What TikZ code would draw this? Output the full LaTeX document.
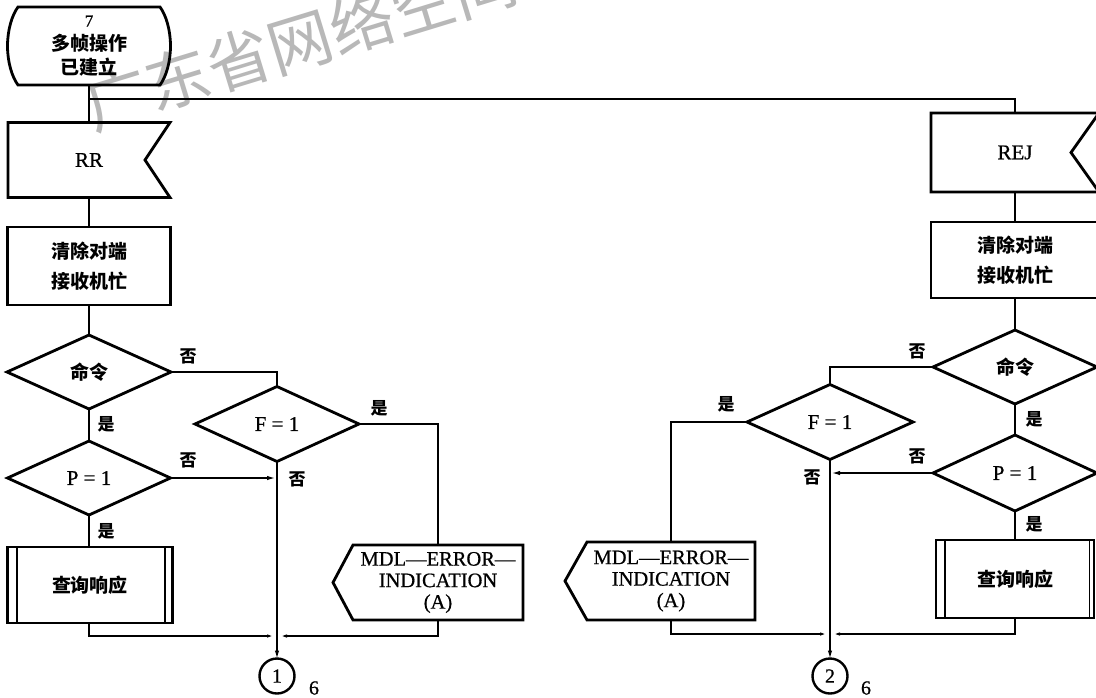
\documentclass[tikz,border=0pt]{standalone}
\usepackage{fontspec}
\setmainfont{Liberation Serif}[FakeBold=0.7]
\newfontfamily\cjk{Noto Sans CJK SC}
\usetikzlibrary{shapes.geometric,arrows.meta,calc}
\begin{document}
\begin{tikzpicture}[x=1pt,y=-1pt,
  outl/.style={line width=2.8pt,line join=miter},
  conn/.style={line width=1.2pt},
  ghost/.style={inner sep=0pt,outer sep=0pt},
  cjkt/.style={font=\cjk\bfseries\fontsize{19}{30}\selectfont},
  latt/.style={font=\fontsize{21}{23}\selectfont},
  dia/.style={diamond,draw,outl,inner sep=0pt,outer sep=0pt},
  rbox/.style={draw,outl,inner sep=0pt,outer sep=0pt},
  lbl/.style={font=\cjk\bfseries\fontsize{17}{17}\selectfont,inner sep=0pt},
  endc/.style={circle,draw,line width=2.4pt,minimum size=35pt,inner sep=0pt,outer sep=0pt,font=\fontsize{20}{20}\selectfont},
  arr/.style={conn,-{Latex[length=8pt,width=4.5pt]}},
  merge/.style={conn,-{Latex[length=6pt,width=3.5pt]},shorten >=4pt}
]
\useasboundingbox (0,0) rectangle (1096,697);
\fill[white] (0,0) rectangle (1096,697);
% watermark
\node[font=\cjk\fontsize{64}{64}\selectfont,text=black!28,rotate=17,anchor=west,inner sep=0pt] (wm) at (86,107) {广东省网络空间};

% ---------- left column ----------
\node[ghost,minimum width=163,minimum height=78,align=center,font=\cjk\bfseries\fontsize{19}{24}\selectfont] (start) at (89,46) {{\rmfamily\mdseries\fontsize{17}{17}\selectfont 7}\\多帧操作\\已建立};
\draw[outl] (18,7) -- (160,7) .. controls (166,15) and (170.5,30) .. (170.5,46) .. controls (170.5,62) and (166,77) .. (160,85) -- (18,85) .. controls (12,77) and (7.5,62) .. (7.5,46) .. controls (7.5,30) and (12,15) .. (18,7) -- cycle;

\node[ghost,minimum width=162,minimum height=75,latt] (rr) at (89,160) {RR};
\draw[outl] (rr.north west) -- (rr.north east) -- ++(-25,37.5) -- (rr.south east) -- (rr.south west) -- cycle;

\node[rbox,minimum width=163,minimum height=78,align=center,cjkt] (clr1) at (89,266) {清除对端\\接收机忙};

\node[dia,minimum width=164,minimum height=74,cjkt] (cmd1) at (89,372) {命令};
\node[dia,minimum width=163,minimum height=74,latt] (p1) at (89,478) {P = 1};

\node[rbox,minimum width=165,minimum height=76,cjkt] (q1) at (90,585) {查询响应};
\draw[line width=2pt] ([xshift=9pt]q1.north west) -- ([xshift=9pt]q1.south west);
\draw[line width=2pt] ([xshift=-8pt]q1.north east) -- ([xshift=-8pt]q1.south east);

\node[dia,minimum width=164,minimum height=75,latt] (f1) at (277,424) {F = 1};

\node[ghost,minimum width=170,minimum height=75,align=center,font=\fontsize{20.5}{21.5}\selectfont] (mdl1) at (438,582.5) {MDL—ERROR—\\INDICATION\\(A)};
\draw[outl] (mdl1.north west) -- (mdl1.north east) -- (mdl1.south east) -- (mdl1.south west) -- ++(-20,-37.5) -- cycle;

\node[endc] (c1) at (277,676) {1};
\node[font=\fontsize{20}{20}\selectfont,inner sep=0pt] (n6a) at (314,688) {6};

\coordinate (m1) at (277,636);

\draw[conn] (start.south) -- (rr.north);
\coordinate (top) at (89,99);
\draw[conn] (rr.south) -- (clr1.north);
\draw[conn] (clr1.south) -- (cmd1.north);
\draw[conn] (cmd1.south) -- (p1.north);
\draw[conn] (p1.south) -- (q1.north -| p1.south);
\draw[conn] (cmd1.east) -| (f1.north);
\draw[conn] (f1.east) -| (mdl1.north);
\draw[arr] (f1.south) -- (c1.north);
\draw[arr,shorten >=2pt] (p1.east) -- (p1.east -| f1.south);
\draw[merge] (q1.south -| p1.south) |- (m1);
\draw[merge] (mdl1.south) |- (m1);

\node[lbl] at (188,356) {否};
\node[lbl] at (106,424) {是};
\node[lbl] at (188,460) {否};
\node[lbl] at (106,531) {是};
\node[lbl] at (379,408) {是};
\node[lbl] at (297,479) {否};

% ---------- right column ----------
\node[ghost,minimum width=168,minimum height=79,latt] (rej) at (1015,152.5) {REJ};
\draw[outl] (rej.north west) -- (rej.north east) -- ++(-28,39.5) -- (rej.south east) -- (rej.south west) -- cycle;
\draw[conn] (top) -| (rej.north);
\draw[conn] (start.south) -- (top);

\node[rbox,minimum width=168,minimum height=76,align=center,cjkt] (clr2) at (1015,260) {清除对端\\接收机忙};

\node[dia,minimum width=164,minimum height=74,cjkt] (cmd2) at (1015,367) {命令};
\node[dia,minimum width=164,minimum height=76,latt] (p2) at (1015,473) {P = 1};

\node[rbox,minimum width=158,minimum height=78,cjkt] (q2) at (1015,579) {查询响应};
\draw[line width=2pt] ([xshift=9pt]q2.north west) -- ([xshift=9pt]q2.south west);
\draw[line width=1.5pt] ([xshift=-4.5pt]q2.north east) -- ([xshift=-4.5pt]q2.south east);

\node[dia,minimum width=166,minimum height=75,latt] (f2) at (830,422) {F = 1};

\node[ghost,minimum width=168,minimum height=78,align=center,font=\fontsize{20.5}{21.5}\selectfont] (mdl2) at (671,581) {MDL—ERROR—\\INDICATION\\(A)};
\draw[outl] (mdl2.north west) -- (mdl2.north east) -- (mdl2.south east) -- (mdl2.south west) -- ++(-22,-39) -- cycle;

\node[endc] (c2) at (830,676) {2};
\node[font=\fontsize{20}{20}\selectfont,inner sep=0pt] (n6b) at (866,688) {6};

\coordinate (m2) at (830,634);

\draw[conn] (rej.south) -- (clr2.north);
\draw[conn] (clr2.south) -- (cmd2.north);
\draw[conn] (cmd2.south) -- (p2.north);
\draw[conn] (p2.south) -- (q2.north);
\draw[conn] (cmd2.west) -| (f2.north);
\draw[conn] (f2.west) -| (mdl2.north);
\draw[arr] (f2.south) -- (c2.north);
\draw[arr,shorten >=2pt] (p2.west) -- (p2.west -| f2.south);
\draw[merge] (q2.south) |- (m2);
\draw[merge] (mdl2.south) |- (m2);

\node[lbl] at (917,351) {否};
\node[lbl] at (1034,419) {是};
\node[lbl] at (917,456) {否};
\node[lbl] at (1034,524) {是};
\node[lbl] at (726,404) {是};
\node[lbl] at (812,477) {否};
\end{tikzpicture}
\end{document}
